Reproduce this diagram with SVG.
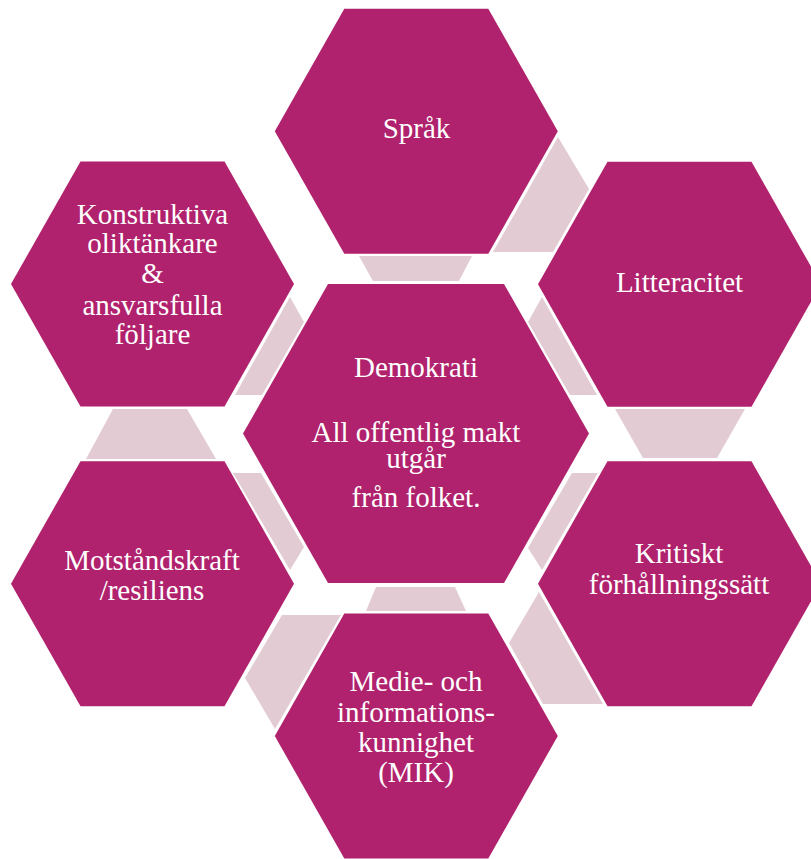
<svg xmlns="http://www.w3.org/2000/svg" xmlns:xlink="http://www.w3.org/1999/xlink" width="811" height="859" viewBox="0 0 811 859">
<style>
.hex{fill:#B0226D;}
.conn{fill:#E2CBD3;}
.t{font-family:"Liberation Serif","Times New Roman",serif;font-size:29px;fill:#FFFFFF;text-anchor:middle;}
</style>
<defs>
<polygon id="hexS" points="-141.5,0 -72,-122.5 72,-122.5 141.5,0 72,122.5 -72,122.5"/>
</defs>
<rect width="811" height="859" fill="#FFFFFF"/>
<g id="connectors">
<polygon class="conn" points="359,256 472,256 459,281 373,281"/>
<polygon class="conn" points="558,137 589,189 553,252 493,252"/>
<polygon class="conn" points="542,297 597,395 570,395 528,322"/>
<polygon class="conn" points="615,409 745,409 717,458 643,458"/>
<polygon class="conn" points="572,473 598,473 542,570 528,548"/>
<polygon class="conn" points="539,592 603,704 543,704 509,643"/>
<polygon class="conn" points="376,587 455,587 466,611 366,611"/>
<polygon class="conn" points="282,615 341,615 275,729 245,678"/>
<polygon class="conn" points="233,473 261,473 304,547 290,570"/>
<polygon class="conn" points="113,409 187,409 216,459 86,459"/>
<polygon class="conn" points="290,297 304,322 262,395 235,395"/>
</g>
<g id="center">
<polygon class="hex" points="243,433.5 328,284 504,284 589,433.5 504,583 328,583"/>
<text class="t" x="416" y="377">Demokrati</text>
<text class="t" x="416" y="442">All offentlig makt</text>
<text class="t" x="416" y="468">utgår</text>
<text class="t" x="416" y="507">från folket.</text>
</g>
<g id="sprak">
<use xlink:href="#hexS" class="hex" x="416.3" y="131.2"/>
<text class="t" x="416.5" y="138">Språk</text>
</g>
<g id="litteracitet">
<use xlink:href="#hexS" class="hex" x="679.5" y="284.2"/>
<text class="t" x="679.5" y="292">Litteracitet</text>
</g>
<g id="kritiskt">
<use xlink:href="#hexS" class="hex" x="679.5" y="583.7"/>
<text class="t" x="679" y="563">Kritiskt</text>
<text class="t" x="679" y="594">förhållningssätt</text>
</g>
<g id="mik">
<use xlink:href="#hexS" class="hex" x="416.3" y="736"/>
<text class="t" x="416" y="691">Medie- och</text>
<text class="t" x="416" y="722">informations-</text>
<text class="t" x="416" y="752">kunnighet</text>
<text class="t" x="416" y="782">(MIK)</text>
</g>
<g id="motstand">
<use xlink:href="#hexS" class="hex" x="152.5" y="583.7"/>
<text class="t" x="152" y="570">Motståndskraft</text>
<text class="t" x="152" y="600">/resiliens</text>
</g>
<g id="konstruktiva">
<use xlink:href="#hexS" class="hex" x="152.5" y="284"/>
<text class="t" x="152.5" y="224">Konstruktiva</text>
<text class="t" x="152.5" y="253">oliktänkare</text>
<text class="t" x="152.5" y="283">&amp;</text>
<text class="t" x="152.5" y="315">ansvarsfulla</text>
<text class="t" x="152.5" y="344">följare</text>
</g>
</svg>
